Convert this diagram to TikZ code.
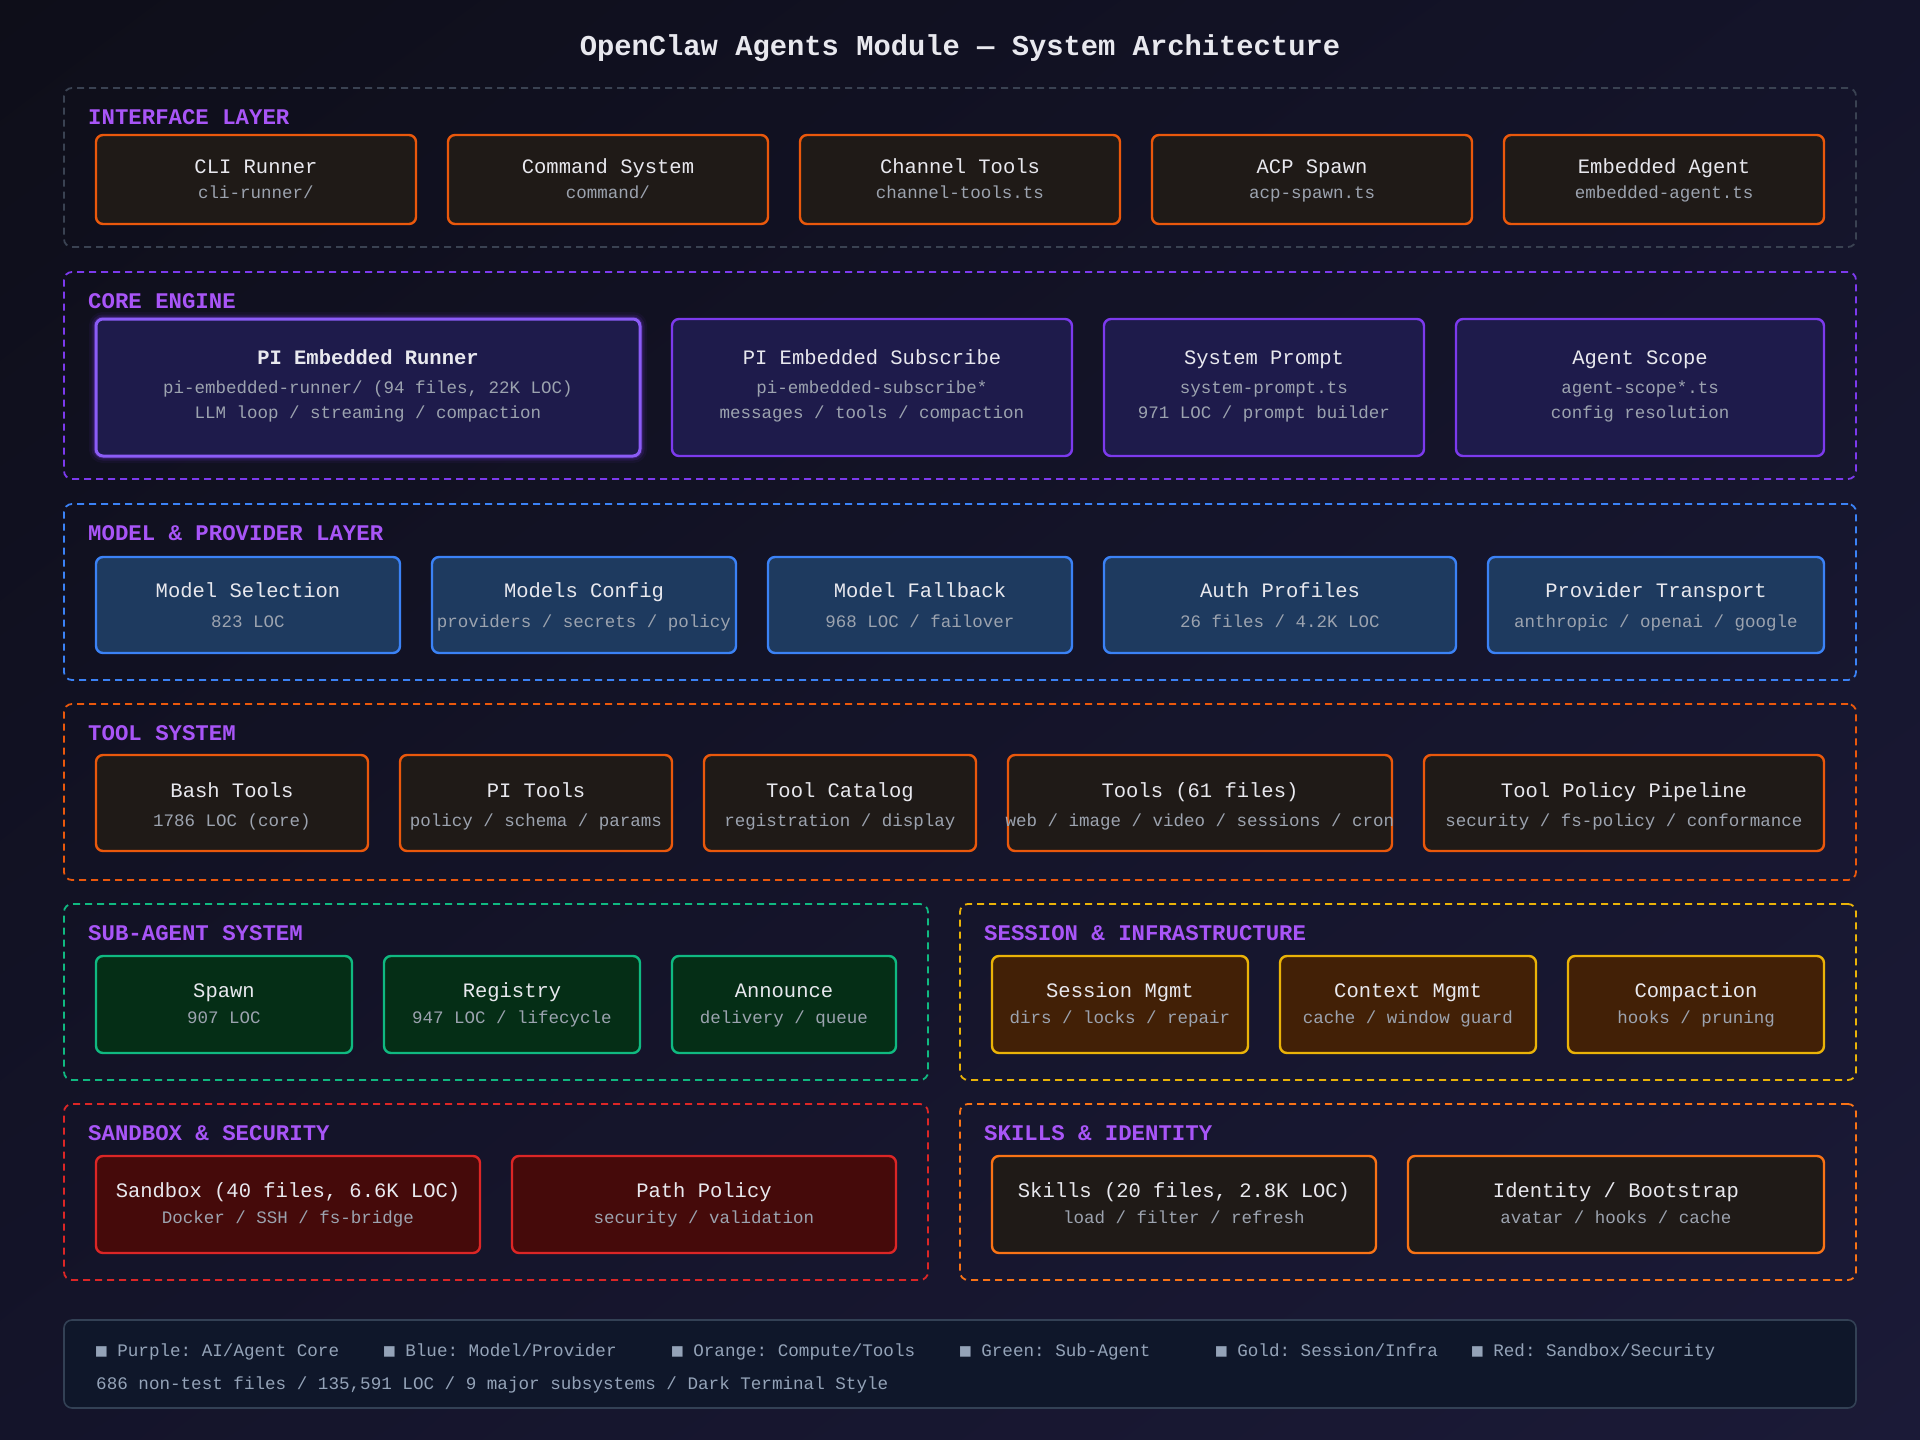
\documentclass[tikz,border=0pt]{standalone}
\usepackage{fontspec}
\setmainfont{Liberation Mono}
\newfontfamily\symfont{DejaVu Sans Mono}
\usetikzlibrary{calc,shadings}
\frenchspacing
\definecolor{bgA}{HTML}{0E0E19}
\definecolor{bgB}{HTML}{1B1A37}
\definecolor{bgC}{HTML}{14142A}
\definecolor{lblc}{HTML}{A855F7}
\definecolor{txt}{HTML}{E8E8EE}
\definecolor{subt}{HTML}{9CA3AF}
\definecolor{ifborder}{HTML}{3A4252}
\definecolor{orng}{HTML}{EA580C}
\definecolor{brownfill}{HTML}{1F1A17}
\definecolor{purp}{HTML}{7C3AED}
\definecolor{purpL}{HTML}{8B5CF6}
\definecolor{indfill}{HTML}{1E1B4B}
\definecolor{blu}{HTML}{3B82F6}
\definecolor{blufill}{HTML}{1E3A5F}
\definecolor{grn}{HTML}{10B981}
\definecolor{grnfill}{HTML}{052E16}
\definecolor{gold}{HTML}{EAB308}
\definecolor{goldfill}{HTML}{422006}
\definecolor{rd}{HTML}{DC2626}
\definecolor{rdfill}{HTML}{450A0A}
\definecolor{org2}{HTML}{F97316}
\definecolor{legfill}{HTML}{0F172A}
\definecolor{legborder}{HTML}{334155}
\definecolor{legtxt}{HTML}{94A3B8}
\tikzset{
  layerbox/.style={rounded corners=8pt, line width=1.8pt, dash pattern=on 7pt off 5pt, inner sep=0pt},
  compbox/.style={draw, rounded corners=7pt, line width=2.4pt, inner sep=0pt},
  ttl/.style={text=txt, font=\frenchspacing\fontsize{20.5}{24}\selectfont, inner sep=0pt, text height=16pt, text depth=3.6pt},
  sbt/.style={text=subt, font=\frenchspacing\fontsize{17.5}{21}\selectfont, inner sep=0pt, text height=13pt, text depth=3pt},
  lyrlabel/.style={text=lblc, font=\bfseries\fontsize{22.35}{26}\selectfont, inner sep=0pt, anchor=west, text height=17pt, text depth=4pt},
  legtext/.style={text=legtxt, font=\frenchspacing\fontsize{17.6}{20}\selectfont, inner sep=0pt, anchor=west, text height=13pt, text depth=3pt},
  ifc/.style={draw=orng, fill=brownfill},
  core/.style={draw=purp, fill=indfill},
  runner/.style={draw=purpL, fill=indfill, line width=3pt,
     preaction={draw=purp, line width=14pt, opacity=0.06},
     preaction={draw=purp, line width=9pt, opacity=0.12},
     preaction={draw=purp, line width=5pt, opacity=0.25}},
  mdl/.style={draw=blu, fill=blufill},
  tool/.style={draw=orng, fill=brownfill},
  sub/.style={draw=grn, fill=grnfill},
  sess/.style={draw=gold, fill=goldfill},
  sand/.style={draw=rd, fill=rdfill},
  skill/.style={draw=org2, fill=brownfill},
}
\newcommand{\layerrect}[6]{%
  \node[layerbox, draw=#6, minimum width={(#4-#2)*1pt}, minimum height={(#5-#3)*1pt}] (#1) at ({(#2+#4)/2},{(#3+#5)/2}) {};
}
\newcommand{\comp}[6]{%
  \node[compbox, #4, minimum width={(#3-#2)*1pt}, minimum height={(\rowB-\rowT)*1pt}] (#1) at ({(#2+#3)/2},{(\rowT+\rowB)/2}) {};
  \node[ttl] (#1-t) at ({(#2+#3)/2},\rowTY) {#5};
  \node[sbt] (#1-s) at ({(#2+#3)/2},\rowSY) {#6};
}
\newcommand{\compiii}[7]{%
  \node[compbox, #4, minimum width={(#3-#2)*1pt}, minimum height={(\rowB-\rowT)*1pt}] (#1) at ({(#2+#3)/2},{(\rowT+\rowB)/2}) {};
  \node[ttl] (#1-t) at ({(#2+#3)/2},\rowTY) {#5};
  \node[sbt] (#1-s) at ({(#2+#3)/2},\rowSY) {#6};
  \node[sbt] (#1-u) at ({(#2+#3)/2},\rowSZ) {#7};
}
\begin{document}
\begin{tikzpicture}[x=1pt, y=-1pt]
\useasboundingbox (0,0) rectangle (1920,1440);
\shade[upper left=bgA, lower right=bgB, upper right=bgC, lower left=bgC] (0,0) rectangle (1920,1440);

% title
\node[text=txt, font=\bfseries\fontsize{28.8}{34}\selectfont, inner sep=0pt, text height=22pt, text depth=5pt] (title) at (960,47) {OpenClaw Agents Module — System Architecture};

% layers
\layerrect{Lif}{64}{88}{1856}{247}{ifborder}
\layerrect{Lcore}{64}{272}{1856}{479}{purp}
\layerrect{Lmodel}{64}{504}{1856}{680}{blu}
\layerrect{Ltool}{64}{704}{1856}{880}{orng}
\layerrect{Lsub}{64}{904}{928}{1080}{grn}
\layerrect{Lsess}{960}{904}{1856}{1080}{gold}
\layerrect{Lsand}{64}{1104}{928}{1280}{rd}
\layerrect{Lskill}{960}{1104}{1856}{1280}{org2}

% layer labels
\node[lyrlabel] (lbl-if) at (88,118) {INTERFACE LAYER};
\node[lyrlabel] (lbl-core) at (88,302) {CORE ENGINE};
\node[lyrlabel] (lbl-model) at (88,534) {MODEL \& PROVIDER LAYER};
\node[lyrlabel] (lbl-tool) at (88,734) {TOOL SYSTEM};
\node[lyrlabel] (lbl-sub) at (88,934) {SUB-AGENT SYSTEM};
\node[lyrlabel] (lbl-sess) at (984,934) {SESSION \& INFRASTRUCTURE};
\node[lyrlabel] (lbl-sand) at (88,1134) {SANDBOX \& SECURITY};
\node[lyrlabel] (lbl-skill) at (984,1134) {SKILLS \& IDENTITY};

% interface row
\def\rowT{135}\def\rowB{224}\def\rowTY{167}\def\rowSY{193}
\comp{cli}{96}{416}{ifc}{CLI Runner}{cli-runner/}
\comp{cmd}{448}{768}{ifc}{Command System}{command/}
\comp{chan}{800}{1120}{ifc}{Channel Tools}{channel-tools.ts}
\comp{acp}{1152}{1472}{ifc}{ACP Spawn}{acp-spawn.ts}
\comp{emb}{1504}{1824}{ifc}{Embedded Agent}{embedded-agent.ts}

% core row
\def\rowT{319}\def\rowB{456}\def\rowTY{358}\def\rowSY{388}\def\rowSZ{413}
\compiii{runner}{96}{640}{runner}{\bfseries PI Embedded Runner}{pi-embedded-runner/ (94 files, 22K LOC)}{LLM loop / streaming / compaction}
\compiii{subscr}{672}{1072}{core}{PI Embedded Subscribe}{pi-embedded-subscribe*}{messages / tools / compaction}
\compiii{sysp}{1104}{1424}{core}{System Prompt}{system-prompt.ts}{971 LOC / prompt builder}
\compiii{scope}{1456}{1824}{core}{Agent Scope}{agent-scope*.ts}{config resolution}

% model row
\def\rowT{557}\def\rowB{653}\def\rowTY{591}\def\rowSY{622}
\comp{msel}{96}{400}{mdl}{Model Selection}{823 LOC}
\comp{mcfg}{432}{736}{mdl}{Models Config}{providers / secrets / policy}
\comp{mfb}{768}{1072}{mdl}{Model Fallback}{968 LOC / failover}
\comp{auth}{1104}{1456}{mdl}{Auth Profiles}{26 files / 4.2K LOC}
\comp{prov}{1488}{1824}{mdl}{Provider Transport}{anthropic / openai / google}

% tool row
\def\rowT{755}\def\rowB{851}\def\rowTY{791}\def\rowSY{821}
\comp{bash}{96}{368}{tool}{Bash Tools}{1786 LOC (core)}
\comp{pit}{400}{672}{tool}{PI Tools}{policy / schema / params}
\comp{tcat}{704}{976}{tool}{Tool Catalog}{registration / display}
\comp{tools}{1008}{1392}{tool}{Tools (61 files)}{web / image / video / sessions / cron}
\comp{tpp}{1424}{1824}{tool}{Tool Policy Pipeline}{security / fs-policy / conformance}

% sub-agent + session row
\def\rowT{956}\def\rowB{1053}\def\rowTY{991}\def\rowSY{1018}
\comp{spawn}{96}{352}{sub}{Spawn}{907 LOC}
\comp{reg}{384}{640}{sub}{Registry}{947 LOC / lifecycle}
\comp{ann}{672}{896}{sub}{Announce}{delivery / queue}
\comp{smg}{992}{1248}{sess}{Session Mgmt}{dirs / locks / repair}
\comp{cmg}{1280}{1536}{sess}{Context Mgmt}{cache / window guard}
\comp{cmp}{1568}{1824}{sess}{Compaction}{hooks / pruning}

% sandbox + skills row
\def\rowT{1156}\def\rowB{1253}\def\rowTY{1191}\def\rowSY{1218}
\comp{sbx}{96}{480}{sand}{Sandbox (40 files, 6.6K LOC)}{Docker / SSH / fs-bridge}
\comp{pp}{512}{896}{sand}{Path Policy}{security / validation}
\comp{skl}{992}{1376}{skill}{Skills (20 files, 2.8K LOC)}{load / filter / refresh}
\comp{idb}{1408}{1824}{skill}{Identity / Bootstrap}{avatar / hooks / cache}

% legend
\node[draw=legborder, fill=legfill, line width=1.6pt, rounded corners=8pt, inner sep=0pt, minimum width=1792pt, minimum height=88pt] (legend) at (960,1364) {};
\node[legtext] (lg1) at (96,1351) {{\symfont ■} Purple: AI/Agent Core};
\node[legtext] (lg2) at (384,1351) {{\symfont ■} Blue: Model/Provider};
\node[legtext] (lg3) at (672,1351) {{\symfont ■} Orange: Compute/Tools};
\node[legtext] (lg4) at (960,1351) {{\symfont ■} Green: Sub-Agent};
\node[legtext] (lg5) at (1216,1351) {{\symfont ■} Gold: Session/Infra};
\node[legtext] (lg6) at (1472,1351) {{\symfont ■} Red: Sandbox/Security};
\node[legtext] (lg7) at (96,1384) {686 non-test files / 135,591 LOC / 9 major subsystems / Dark Terminal Style};
\end{tikzpicture}
\end{document}
